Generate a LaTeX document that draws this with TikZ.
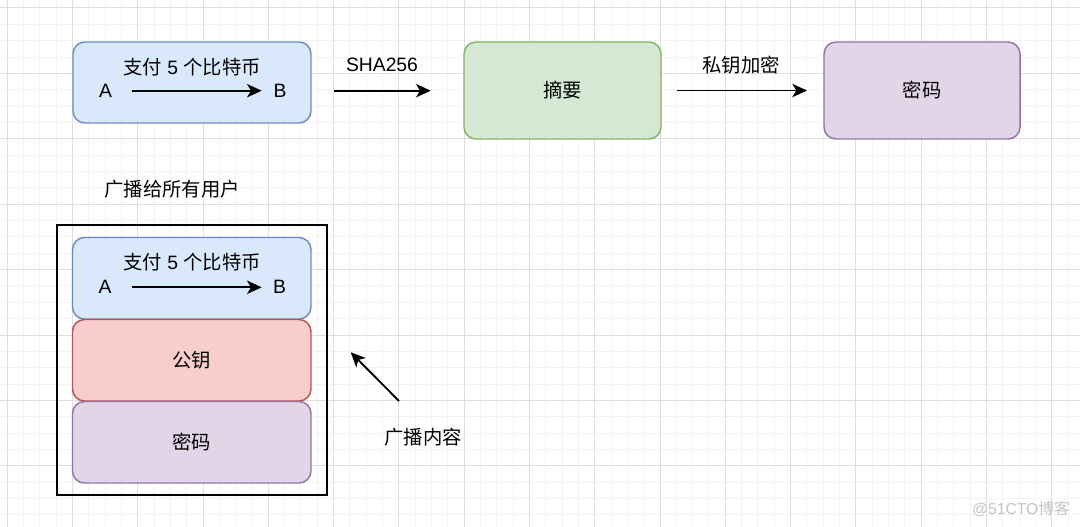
\documentclass[tikz,border=0pt]{standalone}
\usepackage{fontspec}
\setmainfont{Liberation Sans}
\newfontfamily\cjk{Noto Sans CJK SC}
\usetikzlibrary{arrows.meta}
\definecolor{bluefill}{HTML}{DAE8FC}
\definecolor{bluedraw}{HTML}{6C8EBF}
\definecolor{greenfill}{HTML}{D5E8D4}
\definecolor{greendraw}{HTML}{82B366}
\definecolor{purplefill}{HTML}{E1D5E7}
\definecolor{purpledraw}{HTML}{9673A6}
\definecolor{redfill}{HTML}{F8CECC}
\definecolor{reddraw}{HTML}{B85450}
\definecolor{minorgrid}{HTML}{F4F4F4}
\definecolor{majorgrid}{HTML}{DEDEDE}
\definecolor{markgray}{HTML}{C4C4C4}
\begin{document}
\begin{tikzpicture}[x=0.75pt,y=-0.75pt,
  txt/.style={font=\fontsize{14.5}{17}\selectfont, inner sep=0pt, text=black},
  boxsize/.style 2 args={minimum width=#1*0.75pt, minimum height=#2*0.75pt},
  card/.style={draw, rounded corners=9pt, line width=1.1pt, inner sep=0pt,
    font=\fontsize{14.5}{17}\selectfont, text=black},
  bluecard/.style={card, fill=bluefill, draw=bluedraw},
  greencard/.style={card, fill=greenfill, draw=greendraw},
  purplecard/.style={card, fill=purplefill, draw=purpledraw},
  redcard/.style={card, fill=redfill, draw=reddraw},
  flow/.style={line width=1.4pt, -{Stealth[length=11pt,width=10pt,inset=3pt]}},
  gridminor/.style={draw=minorgrid, line width=0.75pt},
  gridmajor/.style={draw=majorgrid, line width=0.75pt}]

\useasboundingbox (0,0) rectangle (1080,527);
\fill[white] (0,0) rectangle (1080,527);

% grid
\begin{scope}
\clip (0,0) rectangle (1080,527);
\foreach \i in {0,...,67} \draw[gridminor] ({-9.12+16.32*\i},0) -- ++(0,527);
\foreach \i in {0,...,34} \draw[gridminor] (0,{-8.35+16.35*\i}) -- ++(1080,0);
\foreach \i in {0,...,16} \draw[gridmajor] ({7.2+65.28*\i},0) -- ++(0,527);
\foreach \i in {0,...,8} \draw[gridmajor] (0,{8+65.4*\i}) -- ++(1080,0);
\end{scope}

% top row
\node[bluecard, boxsize={238}{81}] (pay) at (192,82.5) {};
\node[txt] (paytitle) at (192,66.7) {{\cjk 支付} 5 {\cjk 个比特币}};
\node[txt] (pa) at (105.5,90.7) {A};
\node[txt] (pb) at (280,90.7) {B};
\coordinate (pas) at (131.7,90.7);
\coordinate (pbe) at (261.7,90.7);
\draw[flow] (pas) -- (pbe);

\coordinate (sha1) at (334,90.7);
\coordinate (sha2) at (430.7,90.7);
\draw[flow] (sha1) -- (sha2);
\node[txt] (shalabel) at (382,65) {SHA256};

\node[greencard, boxsize={197}{97}] (digest) at (562.5,90.5) {\cjk 摘要};

\coordinate (enc1) at (677,90.5);
\coordinate (enc2) at (807,90.5);
\draw[flow] (enc1) -- (enc2);
\node[txt] (enclabel) at (741,65) {\cjk 私钥加密};

\node[purplecard, boxsize={196}{97}] (cipher) at (922,90.5) {\cjk 密码};

% broadcast
\node[txt] (bcast) at (172,189) {\cjk 广播给所有用户};

\node[draw=black, line width=1.5pt, inner sep=0pt, boxsize={270}{270}] (outer) at (191.7,360) {};

\node[bluecard, boxsize={238.5}{81.5}] (pay2) at (191.75,278.25) {};
\node[txt] (paytitle2) at (192,262.3) {{\cjk 支付} 5 {\cjk 个比特币}};
\node[txt] (pa2) at (105,287.3) {A};
\node[txt] (pb2) at (279.5,287.3) {B};
\coordinate (pas2) at (131.7,287.3);
\coordinate (pbe2) at (261.7,287.3);
\draw[flow] (pas2) -- (pbe2);

\node[redcard, boxsize={238.5}{81.5}] (pubkey) at (191.75,360.25) {\cjk 公钥};
\node[purplecard, boxsize={238.5}{81.5}] (cipher2) at (191.75,442.25) {\cjk 密码};

\coordinate (pt1) at (399,401);
\coordinate (pt2) at (350.7,352.3);
\draw[flow] (pt1) -- (pt2);
\node[txt] (content) at (423,436.7) {\cjk 广播内容};

% watermark
\node[inner sep=0pt, text=markgray, font=\fontsize{11.8}{14}\selectfont] (mark) at (1021,509) {@51CTO{\cjk 博客}};
\end{tikzpicture}
\end{document}
